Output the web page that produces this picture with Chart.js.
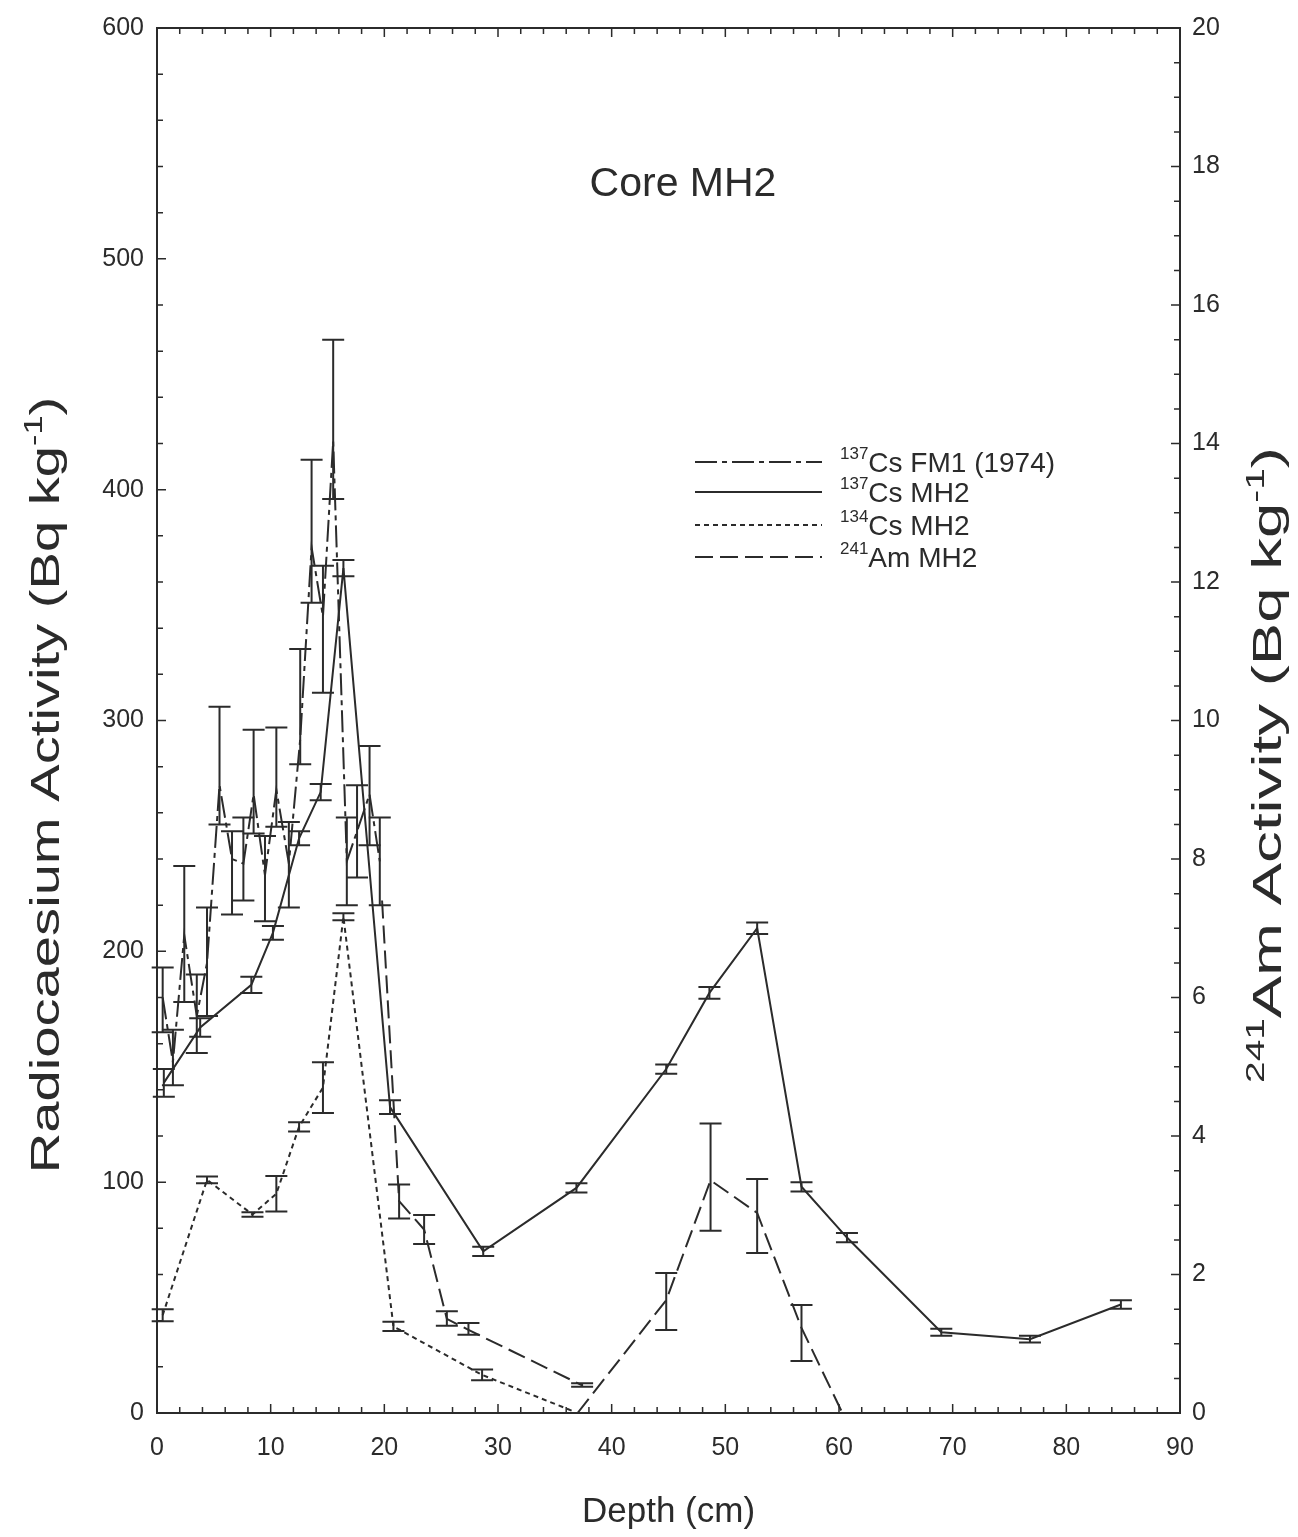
<!DOCTYPE html>
<html>
<head>
<meta charset="utf-8">
<script src="https://cdn.jsdelivr.net/npm/chart.js@4.4.1/dist/chart.umd.min.js"></script>
<style>
  html, body { margin: 0; padding: 0; background: #fff; }
  #wrap { width: 1298px; height: 1537px; }
</style>
</head>
<body>
<div id="wrap"><canvas id="coreChart" width="1298" height="1537"></canvas></div>
<script>
// tick labels
let depthTicks = [0, 10, 20, 30, 40, 50, 60, 70, 80, 90];
let csTicks = [0, 100, 200, 300, 400, 500, 600];
let amTicks = [0, 2, 4, 6, 8, 10, 12, 14, 16, 18, 20];

// 137Cs FM1 (1974), Bq/kg, asymmetric error bars
let fm1Depth = [0.5, 1.4, 2.4, 3.5, 4.4, 5.5, 6.6, 7.6, 8.5, 9.5, 10.5, 11.6, 12.6, 13.6, 14.6, 15.5, 16.7, 17.6, 18.7, 19.6];
let fm1Value = [180, 152, 207, 172, 195, 272, 240, 238, 268, 233, 270, 238, 292, 375, 345, 421, 239, 252, 268, 239];
let fm1Low   = [165, 142, 178, 156, 172, 255, 216, 222, 251, 213, 254, 219, 281, 351, 312, 396, 220, 232, 246, 220];
let fm1High  = [193, 166, 237, 190, 219, 306, 252, 258, 296, 250, 297, 256, 331, 413, 367, 465, 258, 272, 289, 258];

// 137Cs MH2
let csDepth = [0.6, 3.8, 8.3, 10.2, 12.5, 14.4, 16.4, 20.5, 28.7, 36.9, 44.8, 48.6, 52.8, 56.7, 60.7, 69.0, 76.8, 84.8];
let csValue = [143, 167, 185.5, 208, 249, 269, 366, 132.5, 70, 97.5, 149, 182, 210, 98, 76, 35, 32, 47];
let csError = [6, 4, 3.5, 3, 3, 3.5, 3.5, 3, 2, 2, 2, 2.5, 2.5, 2, 2, 1.5, 1.5, 1.8];

// 134Cs MH2
let cs134Depth = [0.5, 4.4, 8.4, 10.5, 12.5, 14.6, 16.4, 20.8, 28.6, 36.5];
let cs134Value = [42.4, 101, 86, 95, 124, 141, 215, 37.5, 16.5, 1];
let cs134Error = [2.6, 1.5, 1, 7.7, 2, 11, 1.5, 2, 2.3, 0];

// 241Am MH2 (right axis); null breaks the line
let amDepth = [19.8, 21.3, 23.5, 25.5, 27.4, 37.4, 37.4, 37.0, 44.8, 48.7, 52.8, 56.7, 60.3];
let amValue = [7.4, 3.06, 2.65, 1.36, 1.2, 0.4, null, 0, 1.63, 3.36, 2.89, 1.23, 0];
let amLow   = [null, 2.81, 2.44, 1.26, 1.13, 0.38, null, null, 1.2, 2.63, 2.31, 0.75, null];
let amHigh  = [null, 3.3, 2.86, 1.47, 1.3, 0.43, null, null, 2.02, 4.18, 3.38, 1.56, null];

const INK = '#2b2b2b';
const FONT = '"Liberation Sans", Arial, Helvetica, sans-serif';

function pts(xs, ys) { return xs.map((x, i) => ({x: x, y: ys[i]})); }

// vertical error bars with caps
const errorBars = {
  id: 'errorBars',
  afterDatasetsDraw(chart) {
    const ctx = chart.ctx;
    ctx.save();
    ctx.strokeStyle = INK;
    ctx.lineWidth = 2;
    chart.data.datasets.forEach((ds) => {
      if (!ds.errLow) return;
      const xs = chart.scales.x, ys = chart.scales[ds.yAxisID];
      ds.data.forEach((p, i) => {
        const lo = ds.errLow[i], hi = ds.errHigh[i];
        if (lo == null || hi == null || lo === hi) return;
        const px = xs.getPixelForValue(p.x);
        const y0 = ys.getPixelForValue(lo), y1 = ys.getPixelForValue(hi);
        ctx.beginPath();
        ctx.moveTo(px, y0); ctx.lineTo(px, y1);
        ctx.moveTo(px - 11, y0); ctx.lineTo(px + 11, y0);
        ctx.moveTo(px - 11, y1); ctx.lineTo(px + 11, y1);
        ctx.stroke();
      });
    });
    ctx.restore();
  }
};

// box frame with inward ticks on all four sides
const frameTicks = {
  id: 'frameTicks',
  afterDraw(chart) {
    const {ctx, chartArea: a, scales} = chart;
    ctx.save();
    ctx.strokeStyle = INK;
    ctx.lineWidth = 2;
    ctx.strokeRect(a.left, a.top, a.right - a.left, a.bottom - a.top);
    ctx.lineWidth = 1.5;
    ctx.beginPath();
    for (let v = 0; v <= 90; v += 2) {
      const px = scales.x.getPixelForValue(v);
      const len = v % 10 === 0 ? 9 : 6;
      ctx.moveTo(px, a.bottom); ctx.lineTo(px, a.bottom - len);
      ctx.moveTo(px, a.top); ctx.lineTo(px, a.top + len);
    }
    for (let v = 0; v <= 600; v += 20) {
      const py = scales.y.getPixelForValue(v);
      const len = v % 100 === 0 ? 9 : 6;
      ctx.moveTo(a.left, py); ctx.lineTo(a.left + len, py);
    }
    for (let v = 0; v <= 20; v += 0.5) {
      const py = scales.y1.getPixelForValue(v);
      const len = v % 2 === 0 ? 9 : 6;
      ctx.moveTo(a.right, py); ctx.lineTo(a.right - len, py);
    }
    ctx.stroke();
    ctx.restore();
  }
};

// draws runs of [text, isSuperscript] left to right from x, returns width
function runs(ctx, parts, x, y, size, supSize, rise, measureOnly) {
  let w = 0;
  parts.forEach(([t, sup]) => {
    ctx.font = (sup ? supSize : size) + 'px ' + FONT;
    if (!measureOnly) ctx.fillText(t, x + w, sup ? y - rise : y);
    w += ctx.measureText(t).width;
  });
  return w;
}

// rotated axis title reading bottom to top, stretched along the text
function sideTitle(ctx, parts, cx, cy, size, stretch) {
  ctx.save();
  ctx.translate(cx, cy);
  ctx.rotate(-Math.PI / 2);
  ctx.scale(stretch, 1);
  const sup = Math.round(size * 0.62), rise = Math.round(size * 0.42);
  const w = runs(ctx, parts, 0, 0, size, sup, rise, true);
  runs(ctx, parts, -w / 2, size * 0.36, size, sup, rise, false);
  ctx.restore();
}

// legend, in-plot label and axis titles
const annotations = {
  id: 'annotations',
  afterDraw(chart) {
    const ctx = chart.ctx;
    ctx.save();
    ctx.fillStyle = INK;
    ctx.textBaseline = 'alphabetic';
    ctx.textAlign = 'left';

    ctx.font = '41px ' + FONT;
    ctx.textAlign = 'center';
    ctx.fillText('Core MH2', 683, 196);
    ctx.textAlign = 'left';

    const rows = [
      {sup: '137', txt: 'Cs FM1 (1974)', ds: 0, y: 462},
      {sup: '137', txt: 'Cs MH2', ds: 1, y: 492},
      {sup: '134', txt: 'Cs MH2', ds: 2, y: 525},
      {sup: '241', txt: 'Am MH2', ds: 3, y: 557}
    ];
    rows.forEach((r) => {
      const ds = chart.data.datasets[r.ds];
      ctx.save();
      ctx.strokeStyle = INK;
      ctx.lineWidth = 2;
      ctx.setLineDash(ds.borderDash || []);
      ctx.beginPath();
      ctx.moveTo(695, r.y); ctx.lineTo(822, r.y);
      ctx.stroke();
      ctx.restore();
      runs(ctx, [[r.sup, true], [r.txt, false]], 840, r.y + 10, 28, 17, 13, false);
    });

    sideTitle(ctx, [['Radiocaesium Activity (Bq kg', false], ['-1', true], [')', false]], 44, 785, 41, 1.37);
    sideTitle(ctx, [['241', true], ['Am Activity (Bq kg', false], ['-1', true], [')', false]], 1266, 765, 41, 1.55);
    ctx.restore();
  }
};

const ctx = document.getElementById('coreChart').getContext('2d');

new Chart(ctx, {
  type: 'line',
  data: {
    datasets: [
      {
        label: '137Cs FM1 (1974)',
        data: pts(fm1Depth, fm1Value),
        errLow: fm1Low, errHigh: fm1High,
        yAxisID: 'y',
        borderColor: INK, borderWidth: 2,
        borderDash: [22, 5, 5, 5],
        pointRadius: 0, tension: 0, fill: false
      },
      {
        label: '137Cs MH2',
        data: pts(csDepth, csValue),
        errLow: csValue.map((v, i) => v - csError[i]),
        errHigh: csValue.map((v, i) => v + csError[i]),
        yAxisID: 'y',
        borderColor: INK, borderWidth: 2,
        pointRadius: 0, tension: 0, fill: false
      },
      {
        label: '134Cs MH2',
        data: pts(cs134Depth, cs134Value),
        errLow: cs134Value.map((v, i) => v - cs134Error[i]),
        errHigh: cs134Value.map((v, i) => v + cs134Error[i]),
        yAxisID: 'y',
        borderColor: INK, borderWidth: 2,
        borderDash: [5, 4],
        pointRadius: 0, tension: 0, fill: false
      },
      {
        label: '241Am MH2',
        data: pts(amDepth, amValue),
        errLow: amLow, errHigh: amHigh,
        yAxisID: 'y1',
        borderColor: INK, borderWidth: 2,
        borderDash: [18, 7],
        pointRadius: 0, tension: 0, fill: false, spanGaps: false
      }
    ]
  },
  options: {
    responsive: false,
    animation: false,
    layout: { padding: { top: 27, left: 0, right: 0, bottom: 0 } },
    plugins: {
      legend: { display: false },
      tooltip: { enabled: false }
    },
    scales: {
      x: {
        type: 'linear',
        position: 'bottom',
        min: 0, max: 90,
        afterBuildTicks: (s) => { s.ticks = depthTicks.map((v) => ({value: v})); },
        afterFit: (s) => { s.height = 124; },
        grid: { display: false, drawTicks: false },
        border: { display: false },
        ticks: { color: INK, padding: 20, font: { family: FONT, size: 25 } },
        title: {
          display: true, text: 'Depth (cm)', color: INK,
          font: { family: FONT, size: 35 }, padding: { top: 0, bottom: 4 }
        }
      },
      y: {
        type: 'linear',
        position: 'left',
        min: 0, max: 600,
        afterBuildTicks: (s) => { s.ticks = csTicks.map((v) => ({value: v})); },
        afterFit: (s) => { s.width = 157; },
        grid: { display: false, drawTicks: false },
        border: { display: false },
        ticks: { color: INK, padding: 13, font: { family: FONT, size: 25 } }
      },
      y1: {
        type: 'linear',
        position: 'right',
        min: 0, max: 20,
        afterBuildTicks: (s) => { s.ticks = amTicks.map((v) => ({value: v})); },
        afterFit: (s) => { s.width = 118; },
        grid: { display: false, drawTicks: false },
        border: { display: false },
        ticks: { color: INK, padding: 12, font: { family: FONT, size: 25 } }
      }
    }
  },
  plugins: [errorBars, frameTicks, annotations]
});
</script>
</body>
</html>
